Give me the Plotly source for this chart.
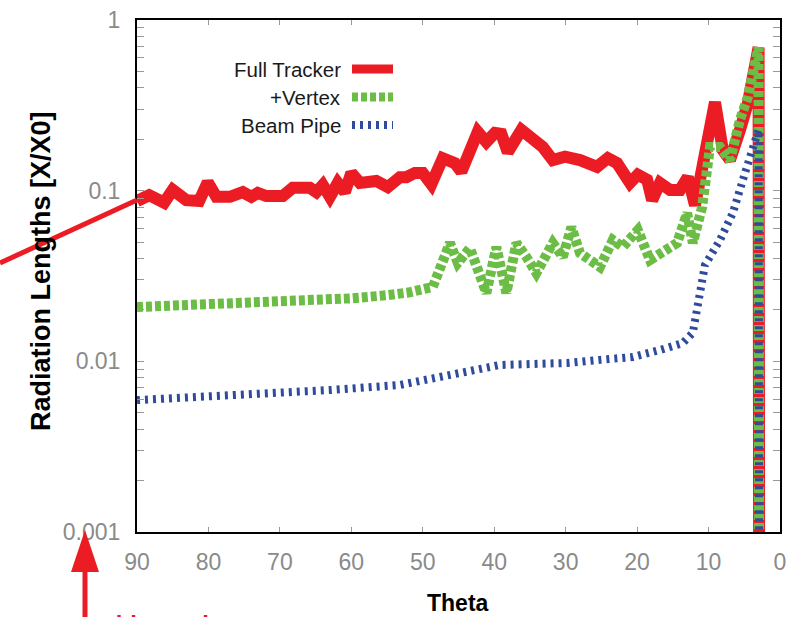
import plotly.graph_objects as go

# ---- data: radiation length vs polar angle ----
red_theta = [90, 88.3, 86.2, 85.0, 83.1, 81.3, 80.1, 78.9, 77.0, 75.2, 74.0, 73.1, 71.9, 69.6, 68.2,
             65.8, 64.9, 64.0, 63.0, 61.9, 60.9, 60.0, 58.8, 56.5, 54.9, 53.2, 52.3, 51.1, 50.0, 48.8,
             47.2, 45.5, 44.6, 42.3, 41.1, 39.9, 39.0, 38.1, 36.2, 34.6, 33.2, 31.8, 30.1, 28.0, 25.6,
             24.1, 22.8, 21.0, 19.9, 18.6, 17.9, 16.8, 15.4, 14.0, 12.9, 11.9, 9.1, 8.0, 7.0, 5.6,
             4.5, 3.0, 2.85]
red_val = [0.087, 0.094, 0.085, 0.101, 0.088, 0.087, 0.112, 0.092, 0.092, 0.098, 0.092, 0.097, 0.093, 0.093, 0.104,
           0.104, 0.098, 0.108, 0.092, 0.111, 0.098, 0.127, 0.111, 0.114, 0.105, 0.120, 0.120, 0.127, 0.127, 0.109,
           0.155, 0.145, 0.129, 0.221, 0.193, 0.218, 0.215, 0.168, 0.227, 0.204, 0.180, 0.151, 0.158, 0.151, 0.138,
           0.155, 0.145, 0.111, 0.124, 0.116, 0.088, 0.111, 0.101, 0.101, 0.120, 0.082, 0.33, 0.173, 0.151, 0.227,
           0.326, 0.69, 1e-6]

green_theta = [90, 85, 80, 75, 70, 65, 60, 55, 52, 48.6, 46.2, 45.1, 43.4, 41.1, 39.7,
               38.3, 36.9, 35.5, 34.1, 31.8, 30.4, 29.2, 28.0, 25.2, 23.4, 22.0, 19.9, 18.2, 15.8, 14.4,
               13.0, 12.2, 10.9, 9.8, 8.4, 7.0, 5.6, 4.5, 3.0, 2.85]
green_val = [0.0208, 0.0211, 0.0214, 0.0218, 0.0222, 0.0227, 0.0234, 0.0244, 0.0253, 0.0273,
             0.0494, 0.0377, 0.0461, 0.0251, 0.0468, 0.0251, 0.0494, 0.0409, 0.0329, 0.0494,
             0.0409, 0.0612, 0.0431, 0.0357, 0.0514, 0.0468, 0.0588, 0.0392, 0.0449, 0.0494,
             0.0740, 0.0494, 0.0802, 0.180, 0.180, 0.151, 0.260, 0.354, 0.69, 1e-6]

blue_theta = [90, 81.3, 71.4, 63.0, 53.2, 48.6, 43.9, 39.2, 34.6, 29.8, 25.2, 20.6, 16.8, 13.6, 12.2,
              10.5, 8.4, 6.6, 5.2, 3.9, 3.0, 2.85]
blue_val = [0.00593, 0.00618, 0.00652, 0.00679, 0.00727, 0.00798, 0.00866, 0.00952, 0.00965, 0.00978,
            0.0102, 0.0106, 0.01165, 0.0128, 0.0147, 0.0367, 0.0514, 0.0740, 0.1155, 0.173, 0.227, 1e-6]

series_names = ["Full Tracker", "+Vertex", "Beam Pipe"]
x_ticks = [90, 80, 70, 60, 50, 40, 30, 20, 10, 0]
y_ticks = [0.001, 0.01, 0.1, 1]
y_tick_text = ["0.001", "0.01", "0.1", "1"]

RED = "#ec1c24"
GREEN = "#6cbd45"
BLUE = "#2f4b9c"
styles = [
    dict(color=RED, width=12, dash="solid"),
    dict(color=GREEN, width=10, dash="6px,3px"),
    dict(color=BLUE, width=8, dash="3px,5px"),
]

FONT = "Liberation Sans, Arial, Helvetica, sans-serif"

fig = go.Figure()
for name, xs, ys, st in zip(series_names,
                            [red_theta, green_theta, blue_theta],
                            [red_val, green_val, blue_val], styles):
    fig.add_trace(go.Scatter(x=xs, y=ys, mode="lines", name=name, line=st, showlegend=False))

# plot area geometry (pixels) used to place the key and callouts in paper units
W, H = 796, 617
L, R, T, B = 137, 16, 20, 85
PW, PH = W - L - R, H - T - B


def px(x):
    return (x - L) / PW


def py(y):
    return (H - B - y) / PH


shapes = []
annotations = []

# key: label on the left, line sample on the right
for i, (name, st) in enumerate(zip(series_names, styles)):
    yy = [69, 97, 125][i]
    annotations.append(dict(x=px(343), y=py(yy), xref="paper", yref="paper", text=name,
                            showarrow=False, xanchor="right", yanchor="middle",
                            font=dict(family=FONT, size=20.5, color="#1a1a1a")))
    shapes.append(dict(type="line", xref="paper", yref="paper", x0=px(352), x1=px(393),
                       y0=py(yy), y1=py(yy),
                       line=dict(color=st["color"], width=min(st["width"], 9), dash=st["dash"])))

# axis titles
annotations.append(dict(x=px(41), y=py(271), xref="paper", yref="paper",
                        text="<b>Radiation Lengths [X/X0]</b>", textangle=-90, showarrow=False,
                        xanchor="center", yanchor="middle",
                        font=dict(family=FONT, size=27, color="black")))
annotations.append(dict(x=px(458), y=py(603), xref="paper", yref="paper",
                        text="<b>Theta</b>", showarrow=False, xanchor="center", yanchor="middle",
                        font=dict(family=FONT, size=23, color="black")))

# red callouts
shapes.append(dict(type="line", xref="paper", yref="paper", x0=px(0), y0=py(263), x1=px(137), y1=py(200),
                   line=dict(color=RED, width=5)))
shapes.append(dict(type="line", xref="paper", yref="paper", x0=px(85), y0=py(625), x1=px(85), y1=py(570),
                   line=dict(color=RED, width=5)))
shapes.append(dict(type="path", xref="paper", yref="paper",
                   path=f"M {px(85)},{py(530)} L {px(71)},{py(572)} L {px(99)},{py(572)} Z",
                   fillcolor=RED, line=dict(color=RED, width=0)))
annotations.append(dict(x=px(94), y=py(624), xref="paper", yref="paper", text="<b>with no pipe</b>",
                        showarrow=False, xanchor="left", yanchor="middle",
                        font=dict(family=FONT, size=24, color=RED)))

minor_vals = [k * 10.0 ** e for e in (-3, -2, -1) for k in range(2, 10)]

fig.update_layout(
    width=W, height=H,
    margin=dict(l=L, r=R, t=T, b=B, autoexpand=False),
    paper_bgcolor="white", plot_bgcolor="white",
    shapes=shapes, annotations=annotations,
    xaxis=dict(range=[90, 0], tickmode="array", tickvals=x_ticks,
               ticks="inside", ticklen=5, tickwidth=1, tickcolor="#999999",
               showline=True, linecolor="black", linewidth=2, mirror="ticks",
               showgrid=False, zeroline=False, ticklabelstandoff=8,
               tickfont=dict(family=FONT, size=23, color="#8a8a8a")),
    yaxis=dict(type="log", range=[-3, 0], tickmode="array", tickvals=y_ticks, ticktext=y_tick_text,
               ticks="inside", ticklen=7, tickwidth=1, tickcolor="#999999",
               showline=True, linecolor="black", linewidth=2, mirror="ticks",
               showgrid=False, zeroline=False, ticklabelstandoff=10,
               minor=dict(tickmode="array", tickvals=minor_vals, ticks="inside", ticklen=7,
                          tickcolor="#999999", showgrid=False),
               tickfont=dict(family=FONT, size=23, color="#8a8a8a")),
)

fig.write_html("out.html")
